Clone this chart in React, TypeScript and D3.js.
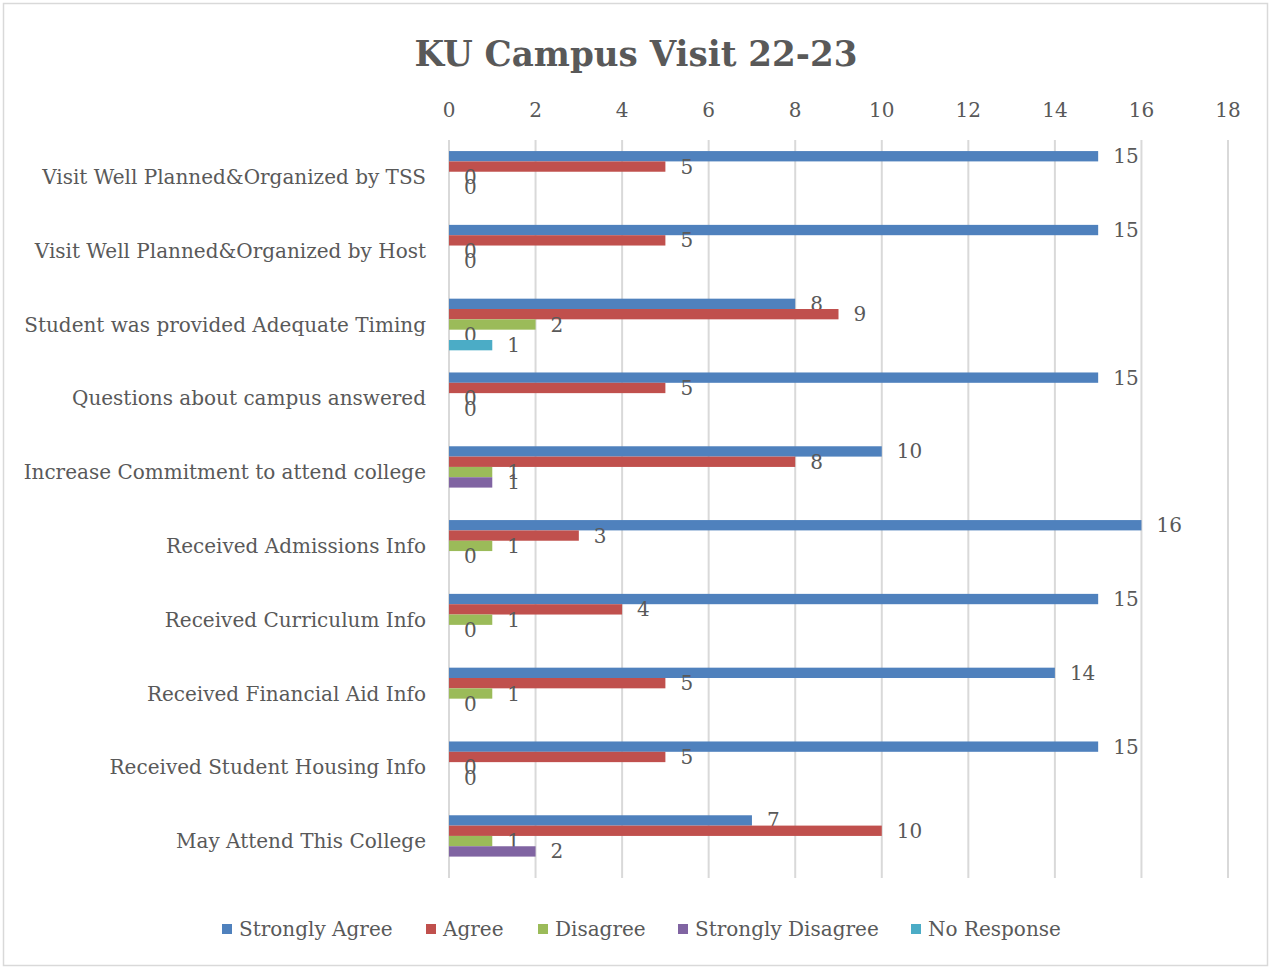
import React from "react";
import * as d3 from "d3";

const categories = [
  "Visit Well Planned&Organized by TSS",
  "Visit Well Planned&Organized by Host",
  "Student was provided Adequate Timing",
  "Questions about campus answered",
  "Increase Commitment to attend college",
  "Received Admissions Info",
  "Received Curriculum Info",
  "Received Financial Aid Info",
  "Received Student Housing Info",
  "May Attend This College",
];

const seriesNames = ["Strongly Agree", "Agree", "Disagree", "Strongly Disagree", "No Response"];
const seriesColors = ["#4F81BD", "#C0504D", "#9BBB59", "#8064A2", "#4BACC6"];

// null = no answer recorded (no label drawn)
const stronglyAgree = [15, 15, 8, 15, 10, 16, 15, 14, 15, 7];
const agree = [5, 5, 9, 5, 8, 3, 4, 5, 5, 10];
const disagree = [0, 0, 2, 0, 1, 1, 1, 1, 0, 1];
const stronglyDisagree = [0, 0, 0, 0, 1, 0, 0, 0, 0, 2];
const noResponse = [null, null, 1, null, null, null, null, null, null, null];

const seriesValues = [stronglyAgree, agree, disagree, stronglyDisagree, noResponse];
const xTicks = [0, 2, 4, 6, 8, 10, 12, 14, 16, 18];

const W = 1271;
const H = 967;
const FONT = "'DejaVu Serif', serif";
const TEXT = "#595959";

export default function App() {
  const x = d3.scaleLinear().domain([0, 18]).range([449, 1228]);
  const y = d3
    .scaleBand<string>()
    .domain(categories)
    .range([140, 878])
    .paddingInner(0.3)
    .paddingOuter(0.15);
  const yInner = d3
    .scaleBand<string>()
    .domain(seriesNames)
    .range([0, y.bandwidth()]);

  const legendX = [222, 426, 538, 678, 911];

  return (
    <svg
      width={W}
      height={H}
      style={{ position: "absolute", left: 0, top: 0, fontFamily: FONT }}
    >
      <rect x={0} y={0} width={W} height={H} fill="#fff" />
      <rect x={3.5} y={3.5} width={W - 7} height={H - 5} fill="#fff" stroke="#d9d9d9" strokeWidth={1.5} />

      <text
        x={636}
        y={66}
        textAnchor="middle"
        fontSize={36}
        fontWeight="bold"
        fill={TEXT}
        textLength={443}
        lengthAdjust="spacingAndGlyphs"
      >
        KU Campus Visit 22-23
      </text>

      {xTicks.map((t) => (
        <g key={t}>
          <line x1={x(t)} x2={x(t)} y1={140} y2={878} stroke="#d9d9d9" strokeWidth={2} />
          <text x={x(t)} y={117} textAnchor="middle" fontSize={20} fill={TEXT}>
            {t}
          </text>
        </g>
      ))}

      {categories.map((c, i) => (
        <g key={c}>
          <text
            x={426}
            y={y(c)! + y.bandwidth() / 2}
            dy="0.35em"
            textAnchor="end"
            fontSize={20}
            fill={TEXT}
          >
            {c}
          </text>
          {seriesNames.map((s, k) => {
            const v = seriesValues[k][i];
            if (v === null) return null;
            const by = y(c)! + yInner(s)!;
            return (
              <g key={s}>
                <rect
                  x={x(0)}
                  y={by}
                  width={x(v) - x(0)}
                  height={yInner.bandwidth()}
                  fill={seriesColors[k]}
                />
                <text
                  x={x(v) + 15}
                  y={by + yInner.bandwidth() / 2}
                  dy="0.35em"
                  fontSize={20}
                  fill={TEXT}
                >
                  {v}
                </text>
              </g>
            );
          })}
        </g>
      ))}

      {seriesNames.map((s, k) => (
        <g key={s}>
          <rect x={legendX[k]} y={924} width={10} height={10} fill={seriesColors[k]} />
          <text x={legendX[k] + 17} y={929} dy="0.35em" fontSize={20} fill={TEXT}>
            {s}
          </text>
        </g>
      ))}
    </svg>
  );
}
